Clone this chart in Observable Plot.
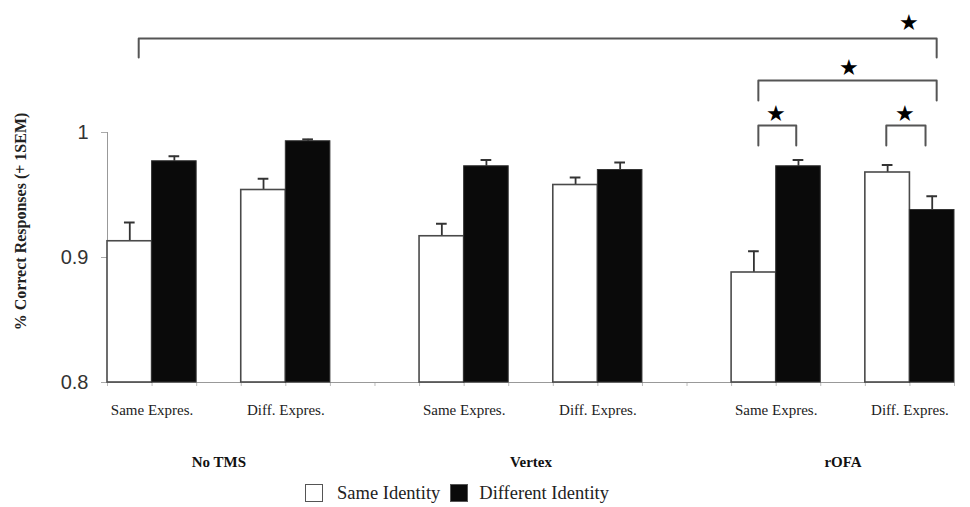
<!DOCTYPE html>
<html>
<head>
<meta charset="utf-8">
<script src="https://cdn.jsdelivr.net/npm/d3@7"></script>
<script src="https://cdn.jsdelivr.net/npm/@observablehq/plot@0.6"></script>
<style>
  html, body { margin: 0; padding: 0; background: #fff; }
  #chart { width: 970px; }
  .legend { display: flex; align-items: center; height: 36px; padding-left: 305px;
    font-family: "Liberation Serif", "Times New Roman", serif; font-size: 18.5px; color: #222; }
  .sw { width: 18px; height: 18px; border: 1.5px solid #555; box-sizing: border-box; }
</style>
</head>
<body>
<div id="chart"></div>
<script>
// ---- data ----
const conditions = ["No TMS", "Vertex", "rOFA"];
const expressions = ["Same Expres.", "Diff. Expres."];
const identities = ["Same Identity", "Different Identity"];
// order: NoTMS-Same, NoTMS-Diff, Vertex-Same, Vertex-Diff, rOFA-Same, rOFA-Diff
const sameIdentityMeans = [0.913, 0.954, 0.917, 0.958, 0.888, 0.968];
const sameIdentitySEM   = [0.015, 0.009, 0.010, 0.006, 0.017, 0.006];
const diffIdentityMeans = [0.977, 0.993, 0.973, 0.970, 0.973, 0.938];
const diffIdentitySEM   = [0.004, 0.0015, 0.005, 0.006, 0.005, 0.011];
const yTicks = [0.8, 0.9, 1];
const yLabel = "% Correct Responses (+ 1SEM)";
// significance brackets (x in bar-slot units, y in data units)
const brackets = [
  {x1: 0.7, x2: 18.6, y: 1.0752, leg: 1.060, starX: 17.97, starY: 1.088},
  {x1: 14.6, x2: 18.6, y: 1.0416, leg: 1.0256, starX: 16.64, starY: 1.052},
  {x1: 14.6, x2: 15.45, y: 1.0056, leg: 0.9896, starX: 15.0, starY: 1.0152},
  {x1: 17.47, x2: 18.35, y: 1.0056, leg: 0.9896, starX: 17.9, starY: 1.0152}
];

// ---- build table ----
const bars = [];
conditions.forEach((c, i) => {
  expressions.forEach((e, j) => {
    const idx = i * 2 + j;
    const base = i * 7 + j * 3;
    bars.push({condition: c, expression: e, identity: identities[0], slot: base,
               mean: sameIdentityMeans[idx], sem: sameIdentitySEM[idx]});
    bars.push({condition: c, expression: e, identity: identities[1], slot: base + 1,
               mean: diffIdentityMeans[idx], sem: diffIdentitySEM[idx]});
  });
});
const exprLabels = [];
conditions.forEach((c, i) => expressions.forEach((e, j) => exprLabels.push({text: e, x: i * 7 + j * 3 + 1})));
const condLabels = conditions.map((c, i) => ({text: c, x: i * 7 + 2.5}));
const bracketPts = [];
brackets.forEach((b, k) => {
  bracketPts.push({k, x: b.x1, y: b.leg}, {k, x: b.x1, y: b.y}, {k, x: b.x2, y: b.y}, {k, x: b.x2, y: b.leg});
});

const serif = "Liberation Serif, Times New Roman, serif";
const sans = "Liberation Sans, Arial, sans-serif";

const chart = Plot.plot({
  width: 970,
  height: 475,
  marginLeft: 107,
  marginRight: 16,
  marginTop: 132,
  marginBottom: 93,
  style: {background: "white", overflow: "visible"},
  x: {type: "linear", domain: [0, 19], axis: null},
  y: {domain: [0.8, 1], axis: null},
  marks: [
    // x slot ticks
    Plot.axisX({ticks: d3.range(0, 20), tickFormat: () => "", tickSize: 4, stroke: "#bbb", label: null}),
    // y axis
    Plot.axisY({ticks: yTicks, tickFormat: d => String(d), tickSize: 6, tickPadding: 13,
                fontSize: 20, fontFamily: sans, stroke: "#aaa", fill: "#333", label: null}),
    Plot.ruleX([0], {y1: 0.8, y2: 1, stroke: "#999"}),
    Plot.ruleY([0.8], {x1: 0, x2: 19, stroke: "#999"}),
    // error bars
    Plot.ruleX(bars, {x: d => d.slot + 0.5, y1: "mean", y2: d => d.mean + d.sem, stroke: "#333", strokeWidth: 1.8}),
    Plot.ruleY(bars, {y: d => d.mean + d.sem, x1: d => d.slot + 0.5 - 0.12, x2: d => d.slot + 0.5 + 0.12, stroke: "#333", strokeWidth: 2}),
    // bars
    Plot.rect(bars.filter(d => d.identity === identities[0]),
      {x1: "slot", x2: d => d.slot + 1, y1: 0.8, y2: "mean", fill: "white", stroke: "#4a4a4a", strokeWidth: 1.6}),
    Plot.rect(bars.filter(d => d.identity === identities[1]),
      {x1: "slot", x2: d => d.slot + 1, y1: 0.8, y2: "mean", fill: "#0a0a0a", stroke: "#333", strokeWidth: 1}),
    // category labels
    Plot.text(exprLabels, {x: "x", y: 0.8, text: "text", dy: 28, fontSize: 15, fontFamily: serif, fill: "#222"}),
    Plot.text(condLabels, {x: "x", y: 0.8, text: "text", dy: 80, fontSize: 15, fontWeight: "bold", fontFamily: serif, fill: "#111"}),
    // y label
    Plot.text([yLabel], {frameAnchor: "left", dx: -87, dy: -36, rotate: -90, textAnchor: "middle", text: d => d,
      fontSize: 16, fontWeight: "bold", fontFamily: serif, fill: "#222"}),
    // significance brackets
    Plot.line(bracketPts, {x: "x", y: "y", z: "k", stroke: "#555", strokeWidth: 2}),
    Plot.text(brackets, {x: "starX", y: "starY", text: () => "★", fontSize: 22, fill: "#000"})
  ]
});
document.getElementById("chart").appendChild(chart);

const legend = document.createElement("div");
legend.className = "legend";
legend.innerHTML = `<span class="sw" style="background:#fff;margin-right:14px"></span><span style="margin-right:10px">${identities[0]}</span>` +
  `<span class="sw" style="background:#0a0a0a;margin-right:11px"></span><span>${identities[1]}</span>`;
document.getElementById("chart").appendChild(legend);
</script>
</body>
</html>
